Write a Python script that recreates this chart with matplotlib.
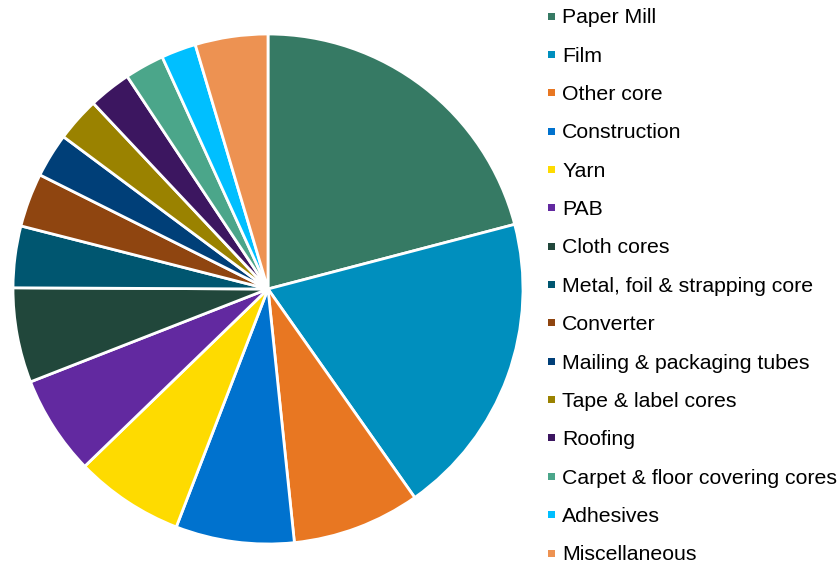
import matplotlib
matplotlib.use("Agg")
import matplotlib.pyplot as plt
from matplotlib.patches import Rectangle

categories = ["Paper Mill", "Film", "Other core", "Construction", "Yarn", "PAB",
              "Cloth cores", "Metal, foil & strapping core", "Converter",
              "Mailing & packaging tubes", "Tape & label cores", "Roofing",
              "Carpet & floor covering cores", "Adhesives", "Miscellaneous"]
shares = [20.9, 19.3, 8.1, 7.5, 6.9, 6.3, 6.0, 3.9, 3.4, 2.8, 2.8, 2.7, 2.5, 2.2, 4.6]
colors = ["#367A64", "#008FBE", "#E87722", "#0072CE", "#FEDB00", "#6229A0",
          "#21473B", "#005670", "#8F4510", "#003F78", "#9A8200", "#3C1660",
          "#4BA68A", "#00BFFF", "#ED9252"]

plt.rcParams['font.family'] = ['Liberation Sans', 'DejaVu Sans']

W, H = 838, 563
fig = plt.figure(figsize=(W / 100, H / 100), dpi=100)

cx, cy, r = 268, 289, 255
ax = fig.add_axes([(cx - r) / W, (H - cy - r) / H, 2 * r / W, 2 * r / H])
ax.pie(shares, colors=colors, startangle=90, counterclock=False,
       wedgeprops=dict(edgecolor="white", linewidth=2.0))
ax.set_xlim(-1, 1)
ax.set_ylim(-1, 1)
ax.set_aspect("equal")
ax.axis("off")

row0, step = 23.3, 38.36
for i, (lab, col) in enumerate(zip(categories, colors)):
    yb = row0 + i * step
    ym = yb - 7.3
    fig.patches.append(Rectangle(((548) / W, (H - ym - 3.5) / H), 7 / W, 7 / H,
                                 transform=fig.transFigure, facecolor=col,
                                 edgecolor="none"))
    fig.text(562 / W, (H - yb) / H, lab, fontsize=15.3, color="black",
             va="baseline", ha="left")

fig.savefig("out.png", dpi=100)
